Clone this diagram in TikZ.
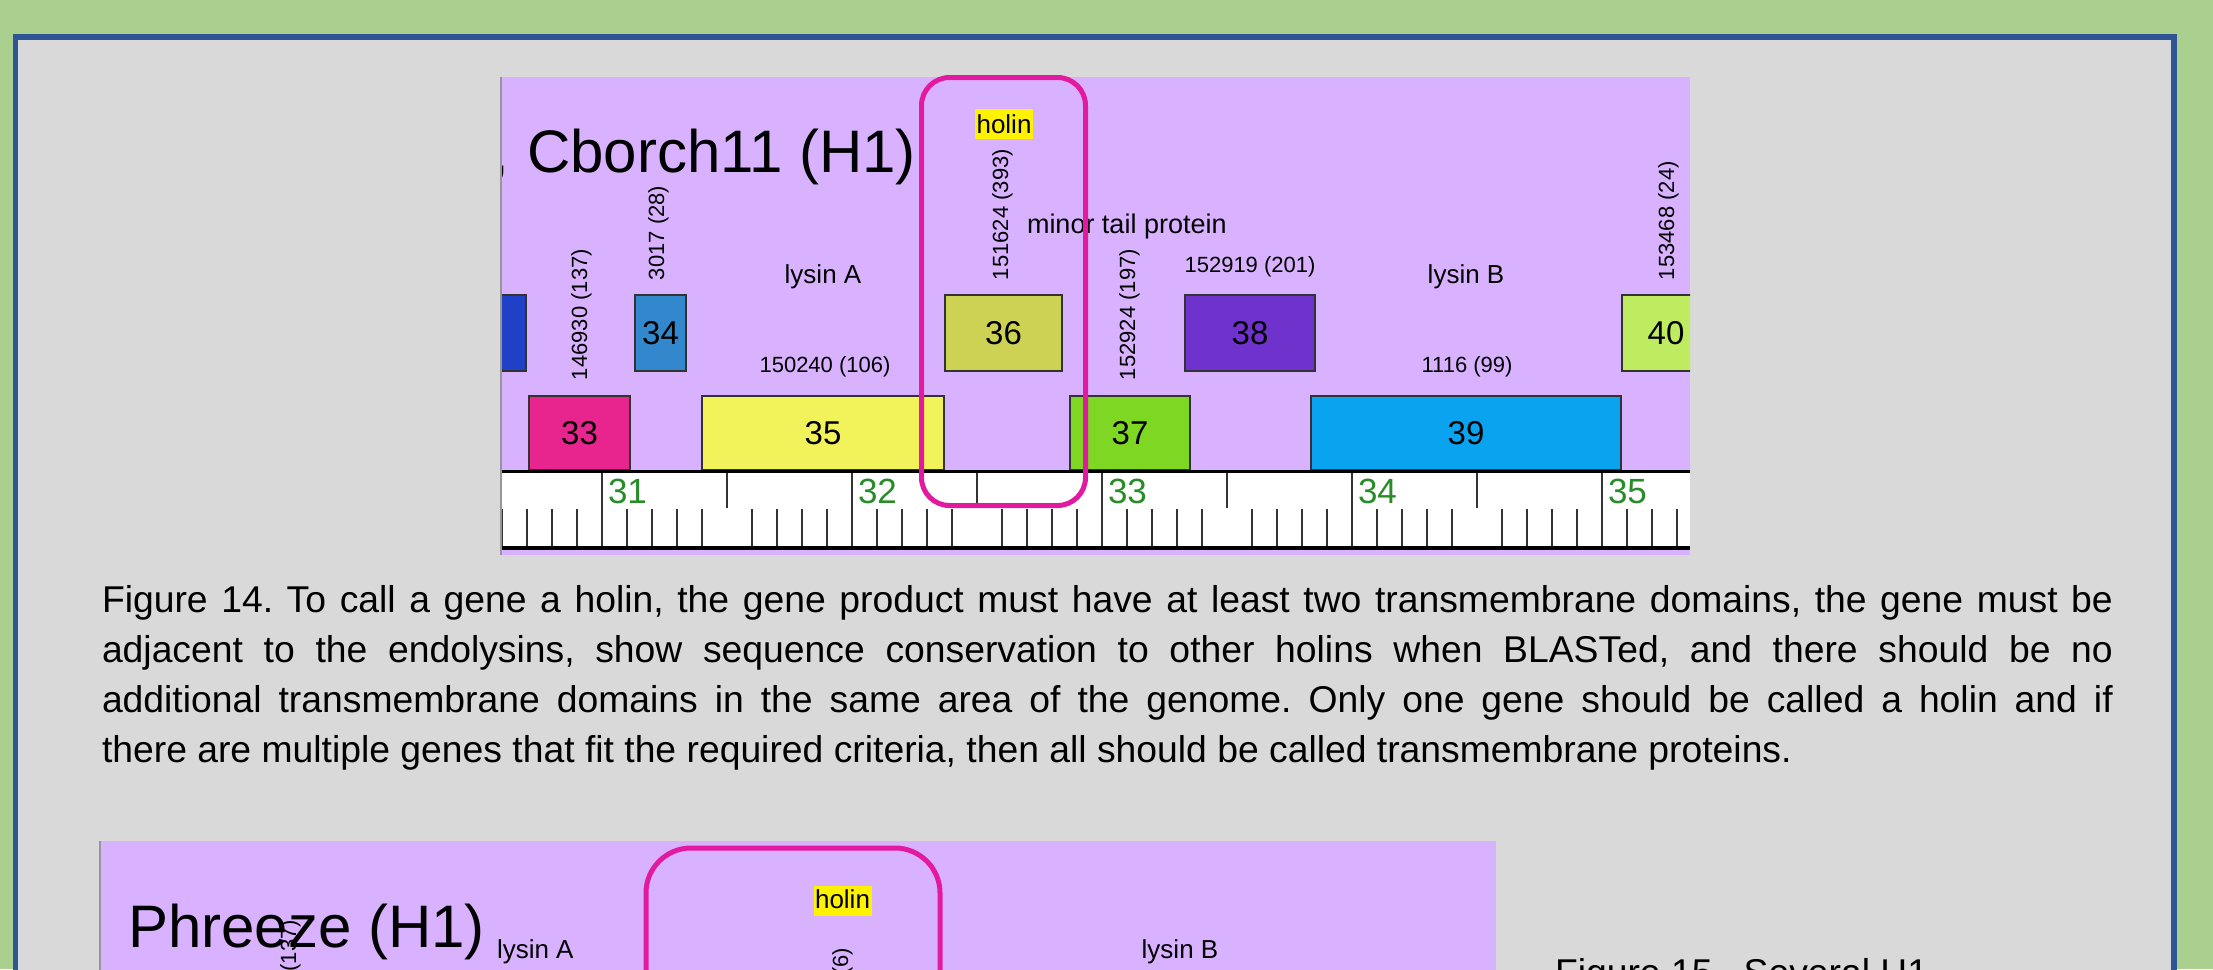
\documentclass[tikz,border=0pt]{standalone}
\usepackage{fontspec}
\setmainfont{Liberation Sans}
\definecolor{bggreen}{RGB}{169,208,142}
\definecolor{frameblue}{RGB}{47,85,151}
\definecolor{panelgray}{RGB}{217,217,217}
\definecolor{lav}{RGB}{217,178,255}
\definecolor{edgegray}{RGB}{150,150,150}
\definecolor{genedge}{RGB}{50,50,50}
\definecolor{c32}{RGB}{32,64,200}
\definecolor{c33}{RGB}{232,37,142}
\definecolor{c34}{RGB}{50,135,205}
\definecolor{c35}{RGB}{242,242,90}
\definecolor{c36}{RGB}{205,210,85}
\definecolor{c37}{RGB}{125,215,35}
\definecolor{c38}{RGB}{112,50,205}
\definecolor{c39}{RGB}{10,163,240}
\definecolor{c40}{RGB}{190,235,95}
\definecolor{rulergreen}{RGB}{40,140,40}
\definecolor{pinkmark}{RGB}{226,26,160}
\frenchspacing
\begin{document}
\begin{tikzpicture}[x=1pt,y=-1pt,
  gtxt/.style={inner sep=0pt,outer sep=0pt},
  title/.style={gtxt,font=\fontsize{60}{62}\selectfont,anchor=base west},
  lab/.style={gtxt,font=\fontsize{26}{28}\selectfont,anchor=base},
  num/.style={gtxt,font=\fontsize{22}{24}\selectfont,anchor=base},
  vlab/.style={num,rotate=90,anchor=base west},
  vlabend/.style={num,rotate=90,anchor=base east},
  genebox/.style={draw=genedge,line width=2pt,inner sep=0pt,font=\fontsize{33}{35}\selectfont},
  holintag/.style={gtxt,fill=yellow,font=\fontsize{26}{28}\selectfont,minimum width=58pt,minimum height=30pt,text depth=0pt},
  tick/.style={draw=black!80,line width=2pt},
  rulernum/.style={gtxt,font=\fontsize{35}{37}\selectfont,text=rulergreen,anchor=base west},
  holinframe/.style={draw=pinkmark,line width=5pt},
  captxt/.style={gtxt,font=\fontsize{37.3}{50}\selectfont,anchor=base west}]
\useasboundingbox (0,0) rectangle (2213,969);
% background and frame
\fill[bggreen] (0,0) rectangle (2213,969);
\fill[frameblue] (13,34) rectangle (2177,1000);
\fill[panelgray] (18,40) rectangle (2171,1000);

% ---------------- upper genome map ----------------
\begin{scope}
\clip (500,77) rectangle (1690,555);
\fill[lav] (500,77) rectangle (1690,555);
\node[title] (comma) at (492,172) {,};
\node[title] (t1) at (527,172) {Cborch11 (H1)};
% upper row genes
\node[genebox,fill=c32,minimum width=90pt,minimum height=76pt] (g32) at (481,333) {};
\node[genebox,fill=c34,minimum width=51pt,minimum height=76pt] (g34) at (660.5,333) {34};
\node[genebox,fill=c36,minimum width=117pt,minimum height=76pt] (g36) at (1003.5,333) {36};
\node[genebox,fill=c38,minimum width=130pt,minimum height=76pt] (g38) at (1250,333) {38};
\node[genebox,fill=c40,minimum width=88pt,minimum height=76pt] (g40) at (1666,333) {40};
% lower row genes
\node[genebox,fill=c33,minimum width=101pt,minimum height=74pt] (g33) at (579.5,433) {33};
\node[genebox,fill=c35,minimum width=242pt,minimum height=74pt] (g35) at (823,433) {35};
\node[genebox,fill=c37,minimum width=120pt,minimum height=74pt] (g37) at (1130,433) {37};
\node[genebox,fill=c39,minimum width=310pt,minimum height=74pt] (g39) at (1466,433) {39};
% labels
\node[holintag] (h1) at (1004,124) {};
\node[lab] (h1t) at (1004,133) {holin};
\node[vlab] (v1) at (587,380) {146930 (137)};
\node[vlab] (v2) at (664,280) {3017 (28)};
\node[vlab] (v3) at (1008,280) {151624 (393)};
\node[vlab] (v4) at (1135,380) {152924 (197)};
\node[vlab] (v5) at (1674,280) {153468 (24)};
\node[gtxt,font=\fontsize{27}{29}\selectfont,anchor=base west] (mtp) at (1027,233) {minor tail protein};
\node[lab] (lA) at (823,283) {lysin A};
\node[lab] (lB) at (1466,283) {lysin B};
\node[num] (n1) at (1250,272) {152919 (201)};
\node[num] (n2) at (825,372) {150240 (106)};
\node[num] (n3) at (1467,372) {1116 (99)};
% ruler
\fill[white] (500,471) rectangle (1690,548);
\foreach \i in {0,...,47} {
  \pgfmathtruncatemacro\m{mod(\i+6,10)}
  \ifnum\m=0
    \draw[tick] ({502+25*\i},471) -- ({502+25*\i},548);
  \else\ifnum\m=5
    \draw[tick] ({502+25*\i},471) -- ({502+25*\i},508);
  \else
    \draw[tick] ({502+25*\i},509) -- ({502+25*\i},548);
  \fi\fi
}
\draw[black,line width=3pt] (500,471) -- (1690,471);
\draw[black,line width=4pt] (500,548) -- (1690,548);
\foreach \n [count=\k from 0] in {31,32,33,34,35}
  \node[rulernum] (r\n) at ({608+250*\k},503) {\n};
\draw[edgegray,line width=1.5pt] (500.75,77) -- (500.75,555);
\end{scope}
\draw[holinframe,rounded corners=28pt] (921.5,77.5) rectangle (1085.5,505.5);

% ---------------- caption ----------------
\node[captxt] (cap1) at (102,612) {\makebox[2011pt][s]{Figure 14. To call a gene a holin, the gene product must have at least two transmembrane domains, the gene must be}};
\node[captxt] (cap2) at (102,662) {\makebox[2011pt][s]{adjacent to the endolysins, show sequence conservation to other holins when BLASTed, and there should be no}};
\node[captxt] (cap3) at (102,712) {\makebox[2011pt][s]{additional transmembrane domains in the same area of the genome. Only one gene should be called a holin and if}};
\node[captxt] (cap4) at (102,762) {there are multiple genes that fit the required criteria, then all should be called transmembrane proteins.};

% ---------------- lower genome map ----------------
\begin{scope}
\clip (99,841) rectangle (1496,1000);
\fill[lav] (99,841) rectangle (1496,1000);
\node[title] (t2) at (128,947) {Phreeze (H1)};
\node[vlabend] (v6) at (296,920) {(137)};
\node[lab,anchor=base west] (lA2) at (497,958) {lysin A};
\node[holintag] (h2) at (842.5,900.5) {};
\node[lab] (h2t) at (842.5,908) {holin};
\node[vlabend] (v7) at (848,948) {(6)};
\node[lab] (lB2) at (1180,958) {lysin B};
\draw[edgegray,line width=1.5pt] (99.75,841) -- (99.75,1000);
\end{scope}
\draw[holinframe,rounded corners=45pt] (646,848) rectangle (940,1060);
\node[captxt] (cap15) at (1555,985) {Figure 15.\ \ Several H1};
\end{tikzpicture}
\end{document}
